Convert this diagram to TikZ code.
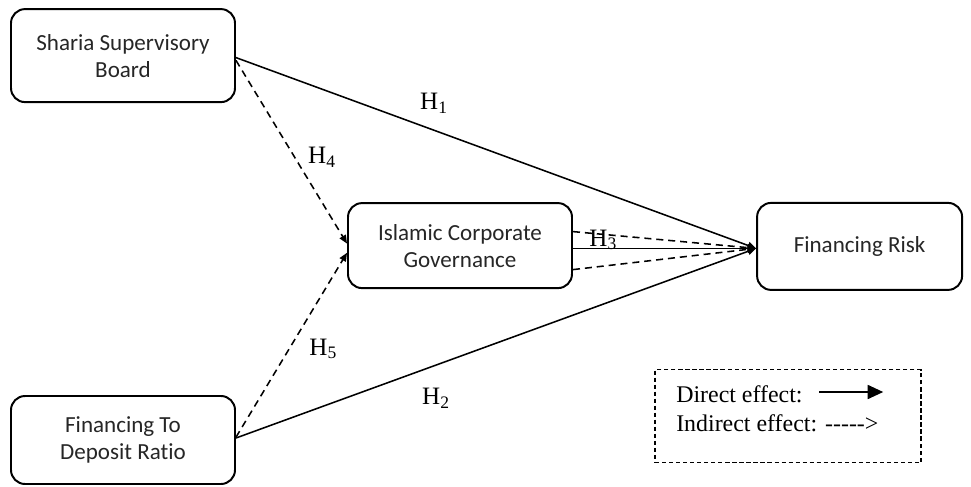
\documentclass[tikz,border=0pt]{standalone}
\usepackage{fontspec}
\setmainfont{Liberation Serif}
\newfontfamily\boxfont[Ligatures=NoCommon]{Carlito}
\usetikzlibrary{arrows.meta,positioning}

\begin{document}
\begin{tikzpicture}
\tikzstyle{varbox}=[draw, line width=1.4pt, rectangle, rounded corners=10pt, text=black!85, font=\boxfont\fontsize{16.4}{19.2}\selectfont, align=center, inner sep=0pt]
\tikzstyle{hyp}=[font=\fontsize{17.8}{20}\selectfont, inner sep=1pt]
\tikzstyle{direct}=[line width=1.1pt, -{Triangle[length=6pt,width=5pt]}]
\tikzstyle{indirect}=[line width=1.1pt, dash pattern=on 5pt off 3.5pt, -{Triangle[length=6pt,width=5pt]}]
\tikzstyle{legendtext}=[font=\fontsize{17}{19}\selectfont, anchor=west, inner sep=0pt]

\useasboundingbox (0,0) rectangle (24.275,-12.15);

\node[varbox, minimum width=5.6cm, minimum height=2.325cm] (ssb) at (3.075, -1.39) {Sharia Supervisory\\Board};
\node[varbox, minimum width=5.6cm, minimum height=2.125cm] (icg) at (11.5, -6.14) {Islamic Corporate\\Governance};
\node[varbox, minimum width=5.125cm, minimum height=2.175cm] (risk) at (21.49, -6.16) {Financing Risk};
\node[varbox, minimum width=5.6cm, minimum height=2.2cm] (fdr) at (3.075, -11.0) {Financing To\\Deposit Ratio};

% direct paths
\draw[direct] ([yshift=-0.05cm]ssb.east) -- ([yshift=-0.05cm]risk.west);
\draw[direct] ([yshift=0.05cm]fdr.east) -- ([yshift=-0.05cm]risk.west);
\draw[direct] ([yshift=-0.07cm]icg.east) -- ([yshift=-0.05cm]risk.west);

% mediated paths
\draw[indirect] ([yshift=-0.12cm]ssb.east) -- ([yshift=0.05cm]icg.west);
\draw[indirect] ([yshift=0.07cm]fdr.east) -- ([yshift=-0.18cm]icg.west);
\draw[indirect] ([yshift=0.35cm]icg.east) -- ([yshift=-0.05cm]risk.west);
\draw[indirect] ([yshift=-0.6cm]icg.east) -- ([yshift=-0.05cm]risk.west);

\node[hyp] (h1) at (10.85, -2.58) {H\textsubscript{1}};
\node[hyp] (h4) at (8.05, -3.93) {H\textsubscript{4}};
\node[hyp] (h3) at (15.08, -6.0) {H\textsubscript{3}};
\node[hyp] (h5) at (8.08, -8.72) {H\textsubscript{5}};
\node[hyp] (h2) at (10.9, -9.95) {H\textsubscript{2}};

% legend
\node[draw, line width=0.8pt, dash pattern=on 3pt off 2pt, minimum width=6.65cm, minimum height=2.325cm] (legend) at (19.7, -10.41) {};
\node[legendtext] (ldirect) at (16.9, -9.86) {Direct effect:};
\node[legendtext] (lindirect) at (16.9, -10.58) {Indirect effect: -\kern0pt-\kern0pt-\kern0pt-\kern0pt-\kern0pt{\textgreater}};
\coordinate (arrstart) at (20.48, -9.8);
\coordinate (arrend) at (22.08, -9.8);
\draw[line width=1pt, -{Triangle[length=11pt,width=10pt]}] (arrstart) -- (arrend);

\end{tikzpicture}
\end{document}
